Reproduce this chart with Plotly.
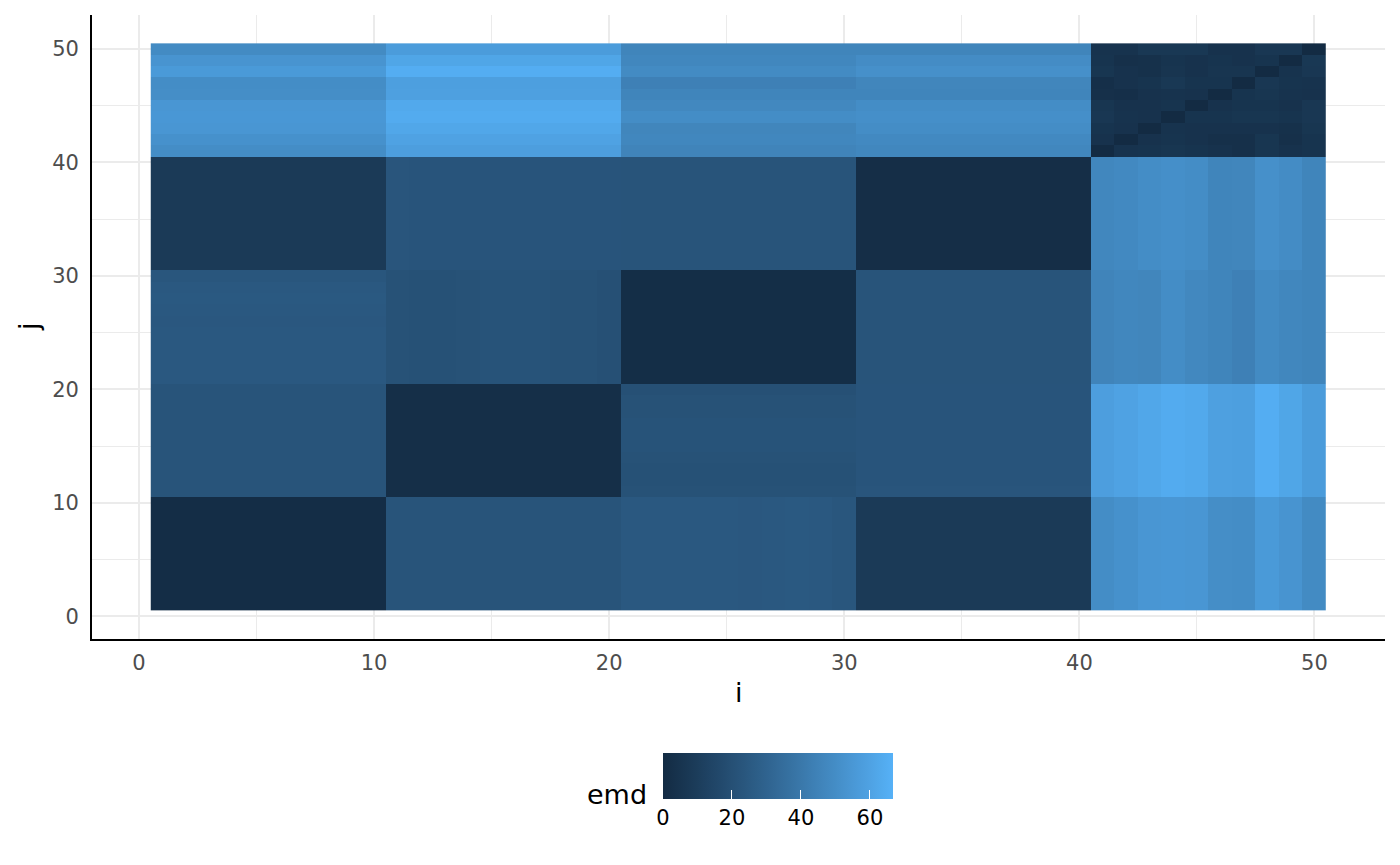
import plotly.graph_objects as go

# ---------------- data ----------------
i_values = list(range(1, 51))          # x: i
j_values = list(range(1, 51))          # y: j
x_ticks = [0, 10, 20, 30, 40, 50]
y_ticks = [0, 10, 20, 30, 40, 50]
legend_ticks = [0, 20, 40, 60]

group_size = 10
# mean emd between groups 1..4 (group k = members 10(k-1)+1 .. 10k)
group_means = [
    [1.2, 22.0, 24.5, 8.5],
    [22.0, 2.0, 21.0, 22.5],
    [24.5, 21.0, 1.6, 22.0],
    [8.5, 22.5, 22.0, 1.8],
]
# per-member values where stripes are visible
g3_vs_g1 = [24.5, 24.5, 24.5, 24.5, 24.5, 24.0, 24.5, 25.0, 24.5, 23.5]   # members 21..30 vs group 1
g2_vs_g3 = [21.0, 20.5, 20.5, 21.0, 21.5, 21.5, 21.5, 21.0, 21.0, 20.0]   # members 11..20 vs group 3
g2_vs_g4 = [23.0, 22.5, 22.5, 22.5, 22.5, 22.5, 22.5, 22.5, 22.5, 22.5]   # members 11..20 vs group 4
# members 41..50 vs groups 1..4
g5_vs_g1 = [50.0, 52.0, 54.5, 55.0, 54.5, 50.5, 50.0, 56.0, 53.5, 49.0]
g5_vs_g2 = [58.0, 60.0, 62.0, 64.0, 63.0, 59.0, 58.5, 65.0, 61.5, 57.0]
g5_vs_g3 = [45.5, 47.0, 46.5, 50.0, 47.5, 46.0, 44.0, 49.0, 47.0, 46.0]
g5_vs_g4 = [47.0, 48.0, 50.0, 51.0, 50.0, 46.0, 46.5, 51.5, 49.5, 46.0]
# group 5 within (rows j=41..50, cols i=41..50)
g5_within = [
    [0.0, 4.5, 5.0, 6.0, 5.0, 4.0, 3.0, 6.0, 4.0, 5.0],
    [4.0, 0.0, 4.0, 5.0, 4.0, 3.0, 3.0, 6.0, 3.0, 5.0],
    [5.0, 4.0, 0.0, 4.5, 4.0, 4.0, 4.0, 4.0, 3.5, 6.0],
    [6.5, 4.5, 4.0, 0.0, 5.0, 5.0, 6.0, 6.0, 5.0, 6.5],
    [6.0, 4.0, 4.0, 5.0, 0.0, 4.0, 5.0, 5.0, 4.0, 6.5],
    [3.0, 2.5, 4.0, 4.5, 4.0, 0.0, 5.0, 6.0, 4.5, 4.0],
    [2.5, 4.0, 5.0, 7.0, 5.0, 5.0, 0.0, 6.5, 5.0, 4.5],
    [6.0, 4.0, 3.5, 5.5, 4.0, 5.5, 5.5, 0.0, 4.5, 6.5],
    [5.0, 3.0, 3.5, 5.0, 4.0, 5.0, 4.0, 5.0, 0.0, 7.0],
    [4.5, 4.5, 7.0, 7.0, 7.0, 4.0, 4.0, 6.5, 6.5, 0.0],
]
emd_min, emd_max = 0.0, 66.7

# ---------------- assemble the table ----------------
g5_vs = [g5_vs_g1, g5_vs_g2, g5_vs_g3, g5_vs_g4]


def cell(i, j):
    gi, gj = (i - 1) // group_size, (j - 1) // group_size
    mi, mj = (i - 1) % group_size, (j - 1) % group_size
    if gi == 4 and gj == 4:
        return g5_within[mj][mi]
    if gi == 4:
        return g5_vs[gj][mi]
    if gj == 4:
        return g5_vs[gi][mj]
    pair = {gi, gj}
    if pair == {0, 2}:
        return g3_vs_g1[mi if gi == 2 else mj]
    if pair == {1, 2}:
        return g2_vs_g3[mi if gi == 1 else mj]
    if pair == {1, 3}:
        return g2_vs_g4[mi if gi == 1 else mj]
    return group_means[gj][gi]


z = [[cell(i, j) for i in i_values] for j in j_values]


# ---------------- colour scale: ggplot gradient #132B43 -> #56B1F7 in CIELAB ----------------
def _lin(c):
    c = c / 255.0
    return c / 12.92 if c <= 0.04045 else ((c + 0.055) / 1.055) ** 2.4


def _gam(c):
    c = 12.92 * c if c <= 0.0031308 else 1.055 * c ** (1 / 2.4) - 0.055
    return max(0, min(255, round(c * 255)))


WHITE = (0.95047, 1.0, 1.08883)


def hex_to_lab(h):
    r, g, b = (_lin(int(h[k:k + 2], 16)) for k in (1, 3, 5))
    X = 0.4124 * r + 0.3576 * g + 0.1805 * b
    Y = 0.2126 * r + 0.7152 * g + 0.0722 * b
    Z = 0.0193 * r + 0.1192 * g + 0.9505 * b
    f = lambda t: t ** (1 / 3) if t > 0.008856 else 7.787 * t + 16 / 116
    fx, fy, fz = f(X / WHITE[0]), f(Y / WHITE[1]), f(Z / WHITE[2])
    return 116 * fy - 16, 500 * (fx - fy), 200 * (fy - fz)


def lab_to_hex(L, a, b):
    fy = (L + 16) / 116
    fx, fz = fy + a / 500, fy - b / 200
    finv = lambda t: t ** 3 if t ** 3 > 0.008856 else (t - 16 / 116) / 7.787
    X, Y, Z = finv(fx) * WHITE[0], finv(fy) * WHITE[1], finv(fz) * WHITE[2]
    r = 3.2406 * X - 1.5372 * Y - 0.4986 * Z
    g = -0.9689 * X + 1.8758 * Y + 0.0415 * Z
    bb = 0.0557 * X - 0.2040 * Y + 1.0570 * Z
    return "#%02x%02x%02x" % (_gam(r), _gam(g), _gam(bb))


lo, hi = hex_to_lab("#132B43"), hex_to_lab("#56B1F7")
n = 20
colorscale = [[k / n, lab_to_hex(*[lo[c] + (hi[c] - lo[c]) * k / n for c in range(3)])] for k in range(n + 1)]

# ---------------- figure ----------------
PAGE_OFF = 8                      # default body margin of the html page
W, H = 1400 - PAGE_OFF, 865 - PAGE_OFF
L_M, R_M, T_M, B_M = 92 - PAGE_OFF, 15, 15 - PAGE_OFF, 226
PW, PH = W - L_M - R_M, H - T_M - B_M


def px(xabs):
    return (xabs - PAGE_OFF - L_M) / PW


def py(yabs):
    return (H - B_M - (yabs - PAGE_OFF)) / PH


fig = go.Figure(
    go.Heatmap(
        x=i_values,
        y=j_values,
        z=z,
        zmin=emd_min,
        zmax=emd_max,
        colorscale=colorscale,
        xgap=0,
        ygap=0,
        colorbar=dict(
            orientation="h",
            lenmode="pixels",
            len=230,
            thickness=46,
            x=px(778),
            xanchor="center",
            y=py(753),
            yanchor="top",
            xpad=0,
            ypad=0,
            outlinewidth=0,
            tickvals=legend_ticks,
            ticks="inside",
            ticklen=9,
            tickwidth=1.2,
            tickcolor="white",
            tickfont=dict(size=21, color="black", family="DejaVu Sans"),
        ),
    )
)

axis_common = dict(
    showgrid=True,
    gridcolor="#EBEBEB",
    gridwidth=2.2,
    zeroline=False,
    showline=True,
    linecolor="black",
    linewidth=1.7,
    ticks="outside",
    tickcolor="rgba(0,0,0,0)",
    tickfont=dict(size=21, color="#4D4D4D", family="DejaVu Sans"),
    minor=dict(tickvals=[5, 15, 25, 35, 45], showgrid=True, gridcolor="#EBEBEB", gridwidth=1.1),
)

fig.update_xaxes(range=[-2, 53], tickvals=x_ticks, ticklen=4, **axis_common)
fig.update_yaxes(range=[-2, 53], tickvals=y_ticks, ticklen=7, **axis_common)

fig.update_layout(
    width=W,
    height=H,
    margin=dict(l=L_M, r=R_M, t=T_M, b=B_M),
    plot_bgcolor="white",
    paper_bgcolor="white",
    font=dict(family="DejaVu Sans"),
    annotations=[
        dict(text="i", x=0.5, y=py(710), xref="paper", yref="paper", xanchor="center", yanchor="bottom",
             showarrow=False, font=dict(size=27, color="black")),
        dict(text="j", x=px(28), y=0.5, xref="paper", yref="paper", xanchor="center", yanchor="middle",
             textangle=-90, showarrow=False, font=dict(size=27, color="black")),
        dict(text="emd", x=px(649), y=py(812), xref="paper", yref="paper", xanchor="right", yanchor="bottom",
             showarrow=False, font=dict(size=27, color="black")),
    ],
)

fig.write_html("out.html")
